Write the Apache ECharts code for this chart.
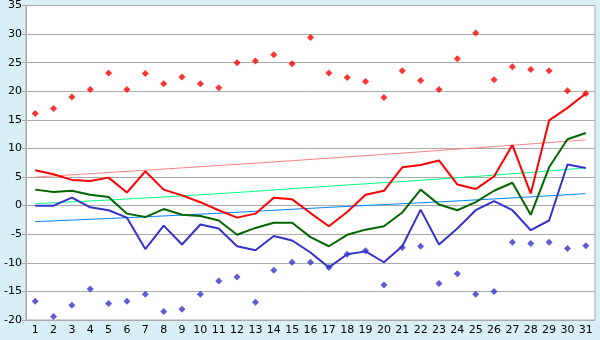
<!DOCTYPE html>
<html>
<head>
<meta charset="utf-8">
<style>
  html, body { margin: 0; padding: 0; background: #d9eff6; }
  #main1 { width: 600px; height: 340px; }
</style>
<script src="https://cdn.jsdelivr.net/npm/echarts@6/dist/echarts.min.js"></script>
</head>
<body>
<div id="main1"></div>
<script>
// 日期 1..31
var days = [];
for (var d = 1; d <= 31; d++) days.push(String(d));

// 折线
var redLine = [6.2, 5.5, 4.5, 4.3, 4.9, 2.3, 6.0, 2.8, 1.8, 0.6, -0.8, -2.1, -1.4, 1.4, 1.1, -1.3,
    -3.6, -1.1, 1.9, 2.6, 6.7, 7.1, 7.9, 3.7, 2.9, 5.1, 10.6, 2.1, 14.9, 17.1, 19.6];
var greenLine = [2.8, 2.4, 2.6, 1.9, 1.5, -1.4, -2.0, -0.6, -1.6, -1.8, -2.6, -5.1, -3.9, -3.0, -3.0, -5.5,
    -7.1, -5.1, -4.2, -3.6, -1.2, 2.8, 0.2, -0.8, 0.6, 2.6, 4.0, -1.6, 6.7, 11.6, 12.7];
var blueLine = [0.0, 0.0, 1.4, -0.3, -0.8, -2.1, -7.6, -3.5, -6.8, -3.3, -4.0, -7.1, -7.8, -5.3, -6.1, -8.2,
    -10.8, -8.5, -8.0, -9.9, -7.1, -0.7, -6.8, -4.0, -0.8, 0.8, -0.8, -4.3, -2.6, 7.2, 6.6];

// 散点
var redDots = [16.1, 17.0, 19.0, 20.3, 23.2, 20.3, 23.1, 21.3, 22.5, 21.3, 20.6, 25.0, 25.3, 26.4, 24.8, 29.4,
    23.2, 22.4, 21.7, 18.9, 23.6, 21.9, 20.3, 25.7, 30.2, 22.0, 24.3, 23.8, 23.6, 20.1, 19.6];
var blueDots = [-16.7, -19.4, -17.4, -14.6, -17.1, -16.7, -15.5, -18.5, -18.1, -15.5, -13.2, -12.5, -16.9, -11.3, -9.9, -9.9,
    -10.8, -8.5, -7.9, -13.9, -7.3, -7.1, -13.6, -11.9, -15.5, -15.0, -6.4, -6.6, -6.4, -7.5, -7.0];

// 趋势线（读取的几个点）
var trendDays = ['1', '9', '17', '25', '31'];
var trendRed = [5.0, 6.6, 8.3, 10.1, 11.5];
var trendGreen = [0.35, 1.7, 3.4, 5.1, 6.6];
var trendBlue = [-2.8, -1.65, -0.3, 1.0, 2.1];

var yTicks = [-20, 35, 5];

function pairs(vals) {
    return trendDays.map(function (d, i) { return [d, vals[i]]; });
}

var myChart = echarts.init(document.getElementById('main1'));

var axisFont = {color: '#000', fontFamily: 'DejaVu Sans', fontSize: 11};

var option = {
    animation: false,
    backgroundColor: '#d9eff6',
    grid: {
        left: 26, right: 5, top: 5, bottom: 20,
        show: true,
        backgroundColor: '#ffffff',
        borderColor: '#aaaaaa',
        borderWidth: 1
    },
    xAxis: {
        type: 'category',
        data: days,
        boundaryGap: true,
        axisLine: {lineStyle: {color: '#aaaaaa'}},
        axisTick: {alignWithLabel: true, length: 4, lineStyle: {color: '#aaaaaa'}},
        axisLabel: Object.assign({interval: 0, margin: 5}, axisFont),
        splitLine: {show: false}
    },
    yAxis: {
        type: 'value',
        min: yTicks[0],
        max: yTicks[1],
        interval: yTicks[2],
        axisLine: {show: true, lineStyle: {color: '#aaaaaa'}},
        axisTick: {show: true, length: 4, lineStyle: {color: '#aaaaaa'}},
        axisLabel: Object.assign({margin: 4}, axisFont),
        splitLine: {lineStyle: {color: '#aaaaaa', width: 1}}
    },
    series: [
        {type: 'line', data: pairs(trendRed), symbol: 'none', smooth: true, lineStyle: {color: '#ff8080', width: 1}},
        {type: 'line', data: pairs(trendGreen), symbol: 'none', smooth: true, lineStyle: {color: '#00ff80', width: 1}},
        {type: 'line', data: pairs(trendBlue), symbol: 'none', smooth: true, lineStyle: {color: '#0080ff', width: 1}},
        {type: 'line', data: redLine, symbol: 'none', lineStyle: {color: '#ff0000', width: 2}},
        {type: 'line', data: greenLine, symbol: 'none', lineStyle: {color: '#006600', width: 2}},
        {type: 'line', data: blueLine, symbol: 'none', lineStyle: {color: '#3333cc', width: 2}},
        {type: 'scatter', data: redDots, symbol: 'diamond', symbolSize: 7, itemStyle: {color: '#ff0000'}},
        {type: 'scatter', data: blueDots, symbol: 'diamond', symbolSize: 7, itemStyle: {color: '#3333cc'}}
    ]
};

myChart.setOption(option);
</script>
</body>
</html>
